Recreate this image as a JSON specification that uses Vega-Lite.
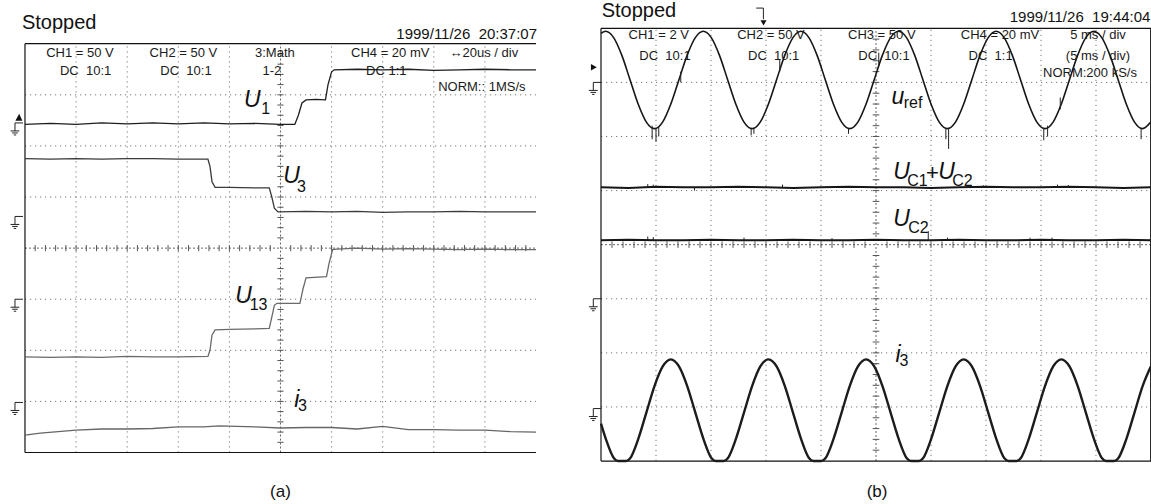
{
"$schema": "https://vega.github.io/schema/vega-lite/v6.json",
"padding": 0,
"autosize": {"type": "pad"},
"background": "white",
"bounds": "flush",
"spacing": 0,
"config": {"view": {"stroke": null}},
"datasets": {
"grid": [
{"x":1,"y":-4,"x2":1,"y2":4},{"x":2,"y":-4,"x2":2,"y2":4},{"x":3,"y":-4,"x2":3,"y2":4},{"x":4,"y":-4,"x2":4,"y2":4},
{"x":6,"y":-4,"x2":6,"y2":4},{"x":7,"y":-4,"x2":7,"y2":4},{"x":8,"y":-4,"x2":8,"y2":4},{"x":9,"y":-4,"x2":9,"y2":4},
{"x":0,"y":-3,"x2":10,"y2":-3},{"x":0,"y":-2,"x2":10,"y2":-2},{"x":0,"y":-1,"x2":10,"y2":-1},
{"x":0,"y":1,"x2":10,"y2":1},{"x":0,"y":2,"x2":10,"y2":2},{"x":0,"y":3,"x2":10,"y2":3}
],
"center": [{"x":5,"y":-4,"x2":5,"y2":4},{"x":0,"y":0,"x2":10,"y2":0}],
"ticksX": [{"t":0.2},{"t":0.4},{"t":0.6},{"t":0.8},{"t":1},{"t":1.2},{"t":1.4},{"t":1.6},{"t":1.8},{"t":2},{"t":2.2},{"t":2.4},{"t":2.6},{"t":2.8},{"t":3},{"t":3.2},{"t":3.4},{"t":3.6},{"t":3.8},{"t":4},{"t":4.2},{"t":4.4},{"t":4.6},{"t":4.8},{"t":5.2},{"t":5.4},{"t":5.6},{"t":5.8},{"t":6},{"t":6.2},{"t":6.4},{"t":6.6},{"t":6.8},{"t":7},{"t":7.2},{"t":7.4},{"t":7.6},{"t":7.8},{"t":8},{"t":8.2},{"t":8.4},{"t":8.6},{"t":8.8},{"t":9},{"t":9.2},{"t":9.4},{"t":9.6},{"t":9.8}],
"ticksY": [{"t":-3.8},{"t":-3.6},{"t":-3.4},{"t":-3.2},{"t":-3},{"t":-2.8},{"t":-2.6},{"t":-2.4},{"t":-2.2},{"t":-2},{"t":-1.8},{"t":-1.6},{"t":-1.4},{"t":-1.2},{"t":-1},{"t":-0.8},{"t":-0.6},{"t":-0.4},{"t":-0.2},{"t":0.2},{"t":0.4},{"t":0.6},{"t":0.8},{"t":1},{"t":1.2},{"t":1.4},{"t":1.6},{"t":1.8},{"t":2},{"t":2.2},{"t":2.4},{"t":2.6},{"t":2.8},{"t":3},{"t":3.2},{"t":3.4},{"t":3.6},{"t":3.8}],
"boxA": [{"x":0,"y":4,"x2":10,"y2":4},{"x":0,"y":-4,"x2":10,"y2":-4},{"x":0,"y":-4,"x2":0,"y2":4}],
"boxB": [{"x":0,"y":4,"x2":10,"y2":4},{"x":0,"y":-4,"x2":10,"y2":-4},{"x":0,"y":-4,"x2":0,"y2":4},{"x":9.995,"y":-4,"x2":9.995,"y2":4}],
"gndA": [{"y":2.45},{"y":0.62},{"y":-1.0},{"y":-3.02}],
"gndB": [{"y":3.0},{"y":-1.0},{"y":-3.03}],
"traceA": [
{"s":"U1","x":0,"y":2.42},{"s":"U1","x":0.5,"y":2.44},{"s":"U1","x":1,"y":2.42},{"s":"U1","x":1.5,"y":2.45},{"s":"U1","x":2,"y":2.43},{"s":"U1","x":2.5,"y":2.45},{"s":"U1","x":3,"y":2.43},{"s":"U1","x":3.5,"y":2.45},{"s":"U1","x":4,"y":2.43},{"s":"U1","x":4.5,"y":2.44},{"s":"U1","x":5,"y":2.42},{"s":"U1","x":5.28,"y":2.42},{"s":"U1","x":5.35,"y":2.6},{"s":"U1","x":5.42,"y":2.84},{"s":"U1","x":5.5,"y":2.9},{"s":"U1","x":5.7,"y":2.91},{"s":"U1","x":5.88,"y":2.9},{"s":"U1","x":5.93,"y":3.2},{"s":"U1","x":6.0,"y":3.45},{"s":"U1","x":6.05,"y":3.49},{"s":"U1","x":6.5,"y":3.5},{"s":"U1","x":7,"y":3.49},{"s":"U1","x":7.5,"y":3.5},{"s":"U1","x":8,"y":3.48},{"s":"U1","x":8.5,"y":3.49},{"s":"U1","x":9,"y":3.5},{"s":"U1","x":9.5,"y":3.49},{"s":"U1","x":10,"y":3.49},
{"s":"U3","x":0,"y":1.75},{"s":"U3","x":0.5,"y":1.74},{"s":"U3","x":1,"y":1.75},{"s":"U3","x":1.5,"y":1.74},{"s":"U3","x":2,"y":1.75},{"s":"U3","x":2.5,"y":1.75},{"s":"U3","x":3,"y":1.74},{"s":"U3","x":3.58,"y":1.74},{"s":"U3","x":3.62,"y":1.6},{"s":"U3","x":3.66,"y":1.3},{"s":"U3","x":3.72,"y":1.19},{"s":"U3","x":4,"y":1.19},{"s":"U3","x":4.5,"y":1.18},{"s":"U3","x":4.78,"y":1.18},{"s":"U3","x":4.83,"y":1.0},{"s":"U3","x":4.88,"y":0.78},{"s":"U3","x":4.95,"y":0.71},{"s":"U3","x":5.5,"y":0.72},{"s":"U3","x":6,"y":0.71},{"s":"U3","x":6.5,"y":0.72},{"s":"U3","x":7,"y":0.7},{"s":"U3","x":7.5,"y":0.71},{"s":"U3","x":8,"y":0.71},{"s":"U3","x":8.5,"y":0.72},{"s":"U3","x":9,"y":0.71},{"s":"U3","x":9.5,"y":0.71},{"s":"U3","x":10,"y":0.71},
{"s":"U13","x":0,"y":-2.13},{"s":"U13","x":0.5,"y":-2.14},{"s":"U13","x":1,"y":-2.13},{"s":"U13","x":1.5,"y":-2.14},{"s":"U13","x":2,"y":-2.12},{"s":"U13","x":2.5,"y":-2.13},{"s":"U13","x":3,"y":-2.13},{"s":"U13","x":3.58,"y":-2.12},{"s":"U13","x":3.62,"y":-2.0},{"s":"U13","x":3.66,"y":-1.7},{"s":"U13","x":3.72,"y":-1.6},{"s":"U13","x":4,"y":-1.59},{"s":"U13","x":4.5,"y":-1.58},{"s":"U13","x":4.78,"y":-1.57},{"s":"U13","x":4.83,"y":-1.35},{"s":"U13","x":4.88,"y":-1.12},{"s":"U13","x":4.93,"y":-1.08},{"s":"U13","x":5.38,"y":-1.08},{"s":"U13","x":5.44,"y":-0.8},{"s":"U13","x":5.5,"y":-0.58},{"s":"U13","x":5.9,"y":-0.56},{"s":"U13","x":5.95,"y":-0.3},{"s":"U13","x":6.02,"y":-0.03},{"s":"U13","x":6.1,"y":-0.02},{"s":"U13","x":6.5,"y":0.0},{"s":"U13","x":7,"y":-0.02},{"s":"U13","x":7.5,"y":-0.01},{"s":"U13","x":8,"y":-0.02},{"s":"U13","x":8.5,"y":-0.03},{"s":"U13","x":9,"y":-0.02},{"s":"U13","x":9.5,"y":-0.03},{"s":"U13","x":10,"y":-0.03},
{"s":"i3","x":0,"y":-3.66},{"s":"i3","x":0.3,"y":-3.62},{"s":"i3","x":1.0,"y":-3.56},{"s":"i3","x":1.5,"y":-3.54},{"s":"i3","x":2,"y":-3.54},{"s":"i3","x":2.5,"y":-3.53},{"s":"i3","x":3,"y":-3.5},{"s":"i3","x":3.5,"y":-3.5},{"s":"i3","x":3.8,"y":-3.48},{"s":"i3","x":4.5,"y":-3.5},{"s":"i3","x":5,"y":-3.52},{"s":"i3","x":5.5,"y":-3.51},{"s":"i3","x":6,"y":-3.51},{"s":"i3","x":6.5,"y":-3.54},{"s":"i3","x":7,"y":-3.49},{"s":"i3","x":7.5,"y":-3.55},{"s":"i3","x":8,"y":-3.55},{"s":"i3","x":8.5,"y":-3.56},{"s":"i3","x":9,"y":-3.56},{"s":"i3","x":9.5,"y":-3.59},{"s":"i3","x":10,"y":-3.6}
],
"sineB": [
{"s":"uref","x":0,"y":3.905},{"s":"uref","x":0.085,"y":3.945},{"s":"uref","x":0.233,"y":3.824},{"s":"uref","x":0.381,"y":3.495},{"s":"uref","x":0.529,"y":3.045},{"s":"uref","x":0.677,"y":2.595},{"s":"uref","x":0.825,"y":2.266},{"s":"uref","x":0.973,"y":2.145},{"s":"uref","x":1.12,"y":2.266},{"s":"uref","x":1.268,"y":2.595},{"s":"uref","x":1.416,"y":3.045},{"s":"uref","x":1.564,"y":3.495},{"s":"uref","x":1.712,"y":3.824},{"s":"uref","x":1.86,"y":3.945},{"s":"uref","x":2.008,"y":3.824},{"s":"uref","x":2.156,"y":3.495},{"s":"uref","x":2.304,"y":3.045},{"s":"uref","x":2.452,"y":2.595},{"s":"uref","x":2.6,"y":2.266},{"s":"uref","x":2.748,"y":2.145},{"s":"uref","x":2.895,"y":2.266},{"s":"uref","x":3.043,"y":2.595},{"s":"uref","x":3.191,"y":3.045},{"s":"uref","x":3.339,"y":3.495},{"s":"uref","x":3.487,"y":3.824},{"s":"uref","x":3.635,"y":3.945},{"s":"uref","x":3.783,"y":3.824},{"s":"uref","x":3.931,"y":3.495},{"s":"uref","x":4.079,"y":3.045},{"s":"uref","x":4.227,"y":2.595},{"s":"uref","x":4.375,"y":2.266},{"s":"uref","x":4.523,"y":2.145},{"s":"uref","x":4.67,"y":2.266},{"s":"uref","x":4.818,"y":2.595},{"s":"uref","x":4.966,"y":3.045},{"s":"uref","x":5.114,"y":3.495},{"s":"uref","x":5.262,"y":3.824},{"s":"uref","x":5.41,"y":3.945},{"s":"uref","x":5.558,"y":3.824},{"s":"uref","x":5.706,"y":3.495},{"s":"uref","x":5.854,"y":3.045},{"s":"uref","x":6.002,"y":2.595},{"s":"uref","x":6.15,"y":2.266},{"s":"uref","x":6.298,"y":2.145},{"s":"uref","x":6.445,"y":2.266},{"s":"uref","x":6.593,"y":2.595},{"s":"uref","x":6.741,"y":3.045},{"s":"uref","x":6.889,"y":3.495},{"s":"uref","x":7.037,"y":3.824},{"s":"uref","x":7.185,"y":3.945},{"s":"uref","x":7.333,"y":3.824},{"s":"uref","x":7.481,"y":3.495},{"s":"uref","x":7.629,"y":3.045},{"s":"uref","x":7.777,"y":2.595},{"s":"uref","x":7.925,"y":2.266},{"s":"uref","x":8.073,"y":2.145},{"s":"uref","x":8.22,"y":2.266},{"s":"uref","x":8.368,"y":2.595},{"s":"uref","x":8.516,"y":3.045},{"s":"uref","x":8.664,"y":3.495},{"s":"uref","x":8.812,"y":3.824},{"s":"uref","x":8.96,"y":3.945},{"s":"uref","x":9.108,"y":3.824},{"s":"uref","x":9.256,"y":3.495},{"s":"uref","x":9.404,"y":3.045},{"s":"uref","x":9.552,"y":2.595},{"s":"uref","x":9.7,"y":2.266},{"s":"uref","x":9.848,"y":2.145},{"s":"uref","x":9.995,"y":2.266},
{"s":"i3","x":0,"y":-3.31},{"s":"i3","x":0.087,"y":-3.59},{"s":"i3","x":0.235,"y":-3.949},{"s":"i3","x":0.309,"y":-4.0},{"s":"i3","x":0.383,"y":-4.0},{"s":"i3","x":0.457,"y":-4.0},{"s":"i3","x":0.53,"y":-3.949},{"s":"i3","x":0.678,"y":-3.59},{"s":"i3","x":0.826,"y":-3.1},{"s":"i3","x":0.974,"y":-2.61},{"s":"i3","x":1.122,"y":-2.251},{"s":"i3","x":1.27,"y":-2.12},{"s":"i3","x":1.418,"y":-2.251},{"s":"i3","x":1.566,"y":-2.61},{"s":"i3","x":1.714,"y":-3.1},{"s":"i3","x":1.862,"y":-3.59},{"s":"i3","x":2.01,"y":-3.949},{"s":"i3","x":2.084,"y":-4.0},{"s":"i3","x":2.158,"y":-4.0},{"s":"i3","x":2.232,"y":-4.0},{"s":"i3","x":2.305,"y":-3.949},{"s":"i3","x":2.453,"y":-3.59},{"s":"i3","x":2.601,"y":-3.1},{"s":"i3","x":2.749,"y":-2.61},{"s":"i3","x":2.897,"y":-2.251},{"s":"i3","x":3.045,"y":-2.12},{"s":"i3","x":3.193,"y":-2.251},{"s":"i3","x":3.341,"y":-2.61},{"s":"i3","x":3.489,"y":-3.1},{"s":"i3","x":3.637,"y":-3.59},{"s":"i3","x":3.785,"y":-3.949},{"s":"i3","x":3.859,"y":-4.0},{"s":"i3","x":3.933,"y":-4.0},{"s":"i3","x":4.007,"y":-4.0},{"s":"i3","x":4.08,"y":-3.949},{"s":"i3","x":4.228,"y":-3.59},{"s":"i3","x":4.376,"y":-3.1},{"s":"i3","x":4.524,"y":-2.61},{"s":"i3","x":4.672,"y":-2.251},{"s":"i3","x":4.82,"y":-2.12},{"s":"i3","x":4.968,"y":-2.251},{"s":"i3","x":5.116,"y":-2.61},{"s":"i3","x":5.264,"y":-3.1},{"s":"i3","x":5.412,"y":-3.59},{"s":"i3","x":5.56,"y":-3.949},{"s":"i3","x":5.634,"y":-4.0},{"s":"i3","x":5.708,"y":-4.0},{"s":"i3","x":5.782,"y":-4.0},{"s":"i3","x":5.855,"y":-3.949},{"s":"i3","x":6.003,"y":-3.59},{"s":"i3","x":6.151,"y":-3.1},{"s":"i3","x":6.299,"y":-2.61},{"s":"i3","x":6.447,"y":-2.251},{"s":"i3","x":6.595,"y":-2.12},{"s":"i3","x":6.743,"y":-2.251},{"s":"i3","x":6.891,"y":-2.61},{"s":"i3","x":7.039,"y":-3.1},{"s":"i3","x":7.187,"y":-3.59},{"s":"i3","x":7.335,"y":-3.949},{"s":"i3","x":7.409,"y":-4.0},{"s":"i3","x":7.483,"y":-4.0},{"s":"i3","x":7.557,"y":-4.0},{"s":"i3","x":7.63,"y":-3.949},{"s":"i3","x":7.778,"y":-3.59},{"s":"i3","x":7.926,"y":-3.1},{"s":"i3","x":8.074,"y":-2.61},{"s":"i3","x":8.222,"y":-2.251},{"s":"i3","x":8.37,"y":-2.12},{"s":"i3","x":8.518,"y":-2.251},{"s":"i3","x":8.666,"y":-2.61},{"s":"i3","x":8.814,"y":-3.1},{"s":"i3","x":8.962,"y":-3.59},{"s":"i3","x":9.11,"y":-3.949},{"s":"i3","x":9.184,"y":-4.0},{"s":"i3","x":9.258,"y":-4.0},{"s":"i3","x":9.332,"y":-4.0},{"s":"i3","x":9.405,"y":-3.949},{"s":"i3","x":9.553,"y":-3.59},{"s":"i3","x":9.701,"y":-3.1},{"s":"i3","x":9.849,"y":-2.61},{"s":"i3","x":9.997,"y":-2.251}
],
"flatB": [
{"s":"uc12","x":0,"y":1.06},{"s":"uc12","x":0.5,"y":1.05},{"s":"uc12","x":1,"y":1.07},{"s":"uc12","x":1.5,"y":1.06},{"s":"uc12","x":2,"y":1.06},{"s":"uc12","x":2.5,"y":1.07},{"s":"uc12","x":3,"y":1.06},{"s":"uc12","x":3.5,"y":1.05},{"s":"uc12","x":4,"y":1.06},{"s":"uc12","x":4.5,"y":1.07},{"s":"uc12","x":5,"y":1.06},{"s":"uc12","x":5.5,"y":1.06},{"s":"uc12","x":6,"y":1.05},{"s":"uc12","x":6.5,"y":1.06},{"s":"uc12","x":7,"y":1.07},{"s":"uc12","x":7.5,"y":1.06},{"s":"uc12","x":8,"y":1.06},{"s":"uc12","x":8.5,"y":1.07},{"s":"uc12","x":9,"y":1.06},{"s":"uc12","x":9.5,"y":1.05},{"s":"uc12","x":10,"y":1.06},
{"s":"uc2","x":0,"y":0.08},{"s":"uc2","x":0.5,"y":0.09},{"s":"uc2","x":1,"y":0.08},{"s":"uc2","x":1.5,"y":0.08},{"s":"uc2","x":2,"y":0.09},{"s":"uc2","x":2.5,"y":0.08},{"s":"uc2","x":3,"y":0.08},{"s":"uc2","x":3.5,"y":0.09},{"s":"uc2","x":4,"y":0.08},{"s":"uc2","x":4.5,"y":0.08},{"s":"uc2","x":5,"y":0.09},{"s":"uc2","x":5.5,"y":0.08},{"s":"uc2","x":6,"y":0.08},{"s":"uc2","x":6.5,"y":0.09},{"s":"uc2","x":7,"y":0.08},{"s":"uc2","x":7.5,"y":0.08},{"s":"uc2","x":8,"y":0.09},{"s":"uc2","x":8.5,"y":0.08},{"s":"uc2","x":9,"y":0.08},{"s":"uc2","x":9.5,"y":0.09},{"s":"uc2","x":10,"y":0.08}
],
"spikesB": [
{"x":0.93,"y":2.2,"y2":1.95},{"x":1.0,"y":2.15,"y2":1.9},{"x":1.05,"y":2.18,"y2":2.0},{"x":2.73,"y":2.15,"y2":2.02},{"x":2.78,"y":2.16,"y2":2.05},{"x":4.5,"y":2.15,"y2":2.05},{"x":6.27,"y":2.16,"y2":1.95},{"x":6.32,"y":2.16,"y2":1.77},{"x":8.05,"y":2.16,"y2":1.93},{"x":8.12,"y":2.2,"y2":2.0},{"x":8.35,"y":2.5,"y2":2.72},{"x":9.82,"y":2.15,"y2":1.95},{"x":1.45,"y":3.0,"y2":3.2},{"x":3.25,"y":3.2,"y2":3.42},{"x":5.05,"y":3.3,"y2":3.55},
{"x":0.85,"y":1.06,"y2":1.12},{"x":0.95,"y":1.06,"y2":1.11},{"x":1.7,"y":1.06,"y2":1.0},{"x":3.3,"y":1.06,"y2":1.11},{"x":6.95,"y":1.06,"y2":1.1},{"x":8.3,"y":1.06,"y2":1.11},{"x":8.5,"y":1.06,"y2":1.1},
{"x":0.85,"y":0.08,"y2":0.15},{"x":0.95,"y":0.08,"y2":0.14},{"x":2.6,"y":0.08,"y2":0.13},{"x":4.2,"y":0.08,"y2":0.12},{"x":5.95,"y":0.07,"y2":0.25},{"x":6.3,"y":0.08,"y2":0.13},{"x":7.8,"y":0.08,"y2":0.13},{"x":8.2,"y":0.08,"y2":0.13}
],
"textA": [
{"role":"status","t":"Stopped","x":-0.06,"y":4.28},
{"role":"time","t":"1999/11/26\u00a0\u00a020:37:07","x":10.02,"y":4.094},
{"role":"info","t":"CH1 = 50 V","x":1.076,"y":3.826},
{"role":"info","t":"DC\u00a0\u00a010:1","x":1.186,"y":3.468},
{"role":"info","t":"CH2 = 50 V","x":3.10,"y":3.826},
{"role":"info","t":"DC\u00a0\u00a010:1","x":3.15,"y":3.468},
{"role":"info","t":"3:Math","x":4.89,"y":3.826},
{"role":"info","t":"1-2","x":4.83,"y":3.468},
{"role":"info","t":"CH4 = 20 mV","x":7.147,"y":3.826},
{"role":"info","t":"DC 1:1","x":7.07,"y":3.468},
{"role":"info","t":"\u219420us / div","x":8.98,"y":3.826},
{"role":"info","t":"NORM:: 1MS/s","x":8.94,"y":3.155},
{"role":"name","t":"U","x":4.45,"y":2.9},
{"role":"sub","t":"1","x":4.71,"y":2.73},
{"role":"name","t":"U","x":5.215,"y":1.413},
{"role":"sub","t":"3","x":5.41,"y":1.198},
{"role":"name","t":"U","x":4.276,"y":-0.945},
{"role":"sub","t":"13","x":4.57,"y":-1.11},
{"role":"name","t":"i","x":5.32,"y":-2.98},
{"role":"sub","t":"3","x":5.43,"y":-3.09},
{"role":"caption","t":"(a)","x":5.0,"y":-4.77}
],
"textB": [
{"role":"status","t":"Stopped","x":0.013,"y":4.217},
{"role":"time","t":"1999/11/26\u00a0\u00a019:44:04","x":9.99,"y":4.115},
{"role":"info","t":"CH1 = 2 V","x":1.05,"y":3.87},
{"role":"info","t":"DC\u00a0\u00a010:1","x":1.164,"y":3.49},
{"role":"info","t":"CH2 = 50 V","x":3.09,"y":3.87},
{"role":"info","t":"DC\u00a0\u00a010:1","x":3.14,"y":3.49},
{"role":"info","t":"CH3 = 50 V","x":5.105,"y":3.87},
{"role":"info","t":"DC\u00a0\u00a010:1","x":5.145,"y":3.49},
{"role":"info","t":"CH4 = 20 mV","x":7.255,"y":3.87},
{"role":"info","t":"DC\u00a0\u00a01:1","x":7.084,"y":3.49},
{"role":"info","t":"5 ms / div","x":9.036,"y":3.87},
{"role":"info","t":"(5 ms / div)","x":9.036,"y":3.49},
{"role":"info","t":"NORM:200 kS/s","x":8.89,"y":3.17},
{"role":"name","t":"u","x":5.4,"y":2.73},
{"role":"sub","t":"ref","x":5.673,"y":2.62},
{"role":"name","t":"U","x":5.467,"y":1.346},
{"role":"sub","t":"C1","x":5.755,"y":1.176},
{"role":"plus","t":"+","x":6.027,"y":1.329},
{"role":"name","t":"U","x":6.282,"y":1.346},
{"role":"sub","t":"C2","x":6.573,"y":1.176},
{"role":"name","t":"U","x":5.467,"y":0.4825},
{"role":"sub","t":"C2","x":5.77,"y":0.312},
{"role":"name","t":"i","x":5.4,"y":-2.04},
{"role":"sub","t":"3","x":5.51,"y":-2.15},
{"role":"caption","t":"(b)","x":5.02,"y":-4.57}
]
},
"hconcat": [
{
"width": 568, "height": 504,
"layer": [
{"data":{"name":"grid"},"mark":{"type":"rule","color":"#777","strokeWidth":1,"strokeDash":[1.2,3.8]},
 "encoding":{"x":{"field":"x","type":"quantitative","scale":{"domain":[-0.489,10.626],"nice":false,"zero":false},"axis":null},"y":{"field":"y","type":"quantitative","scale":{"domain":[-5.027,4.836],"nice":false,"zero":false},"axis":null},"x2":{"field":"x2"},"y2":{"field":"y2"}}},
{"data":{"name":"center"},"mark":{"type":"rule","color":"#666","strokeWidth":1,"strokeDash":[2,2]},
 "encoding":{"x":{"field":"x","type":"quantitative","scale":{"domain":[-0.489,10.626],"nice":false,"zero":false},"axis":null},"y":{"field":"y","type":"quantitative","scale":{"domain":[-5.027,4.836],"nice":false,"zero":false},"axis":null},"x2":{"field":"x2"},"y2":{"field":"y2"}}},
{"data":{"name":"ticksX"},"mark":{"type":"rule","color":"#555","strokeWidth":1},
 "encoding":{"x":{"field":"t","type":"quantitative","scale":{"domain":[-0.489,10.626],"nice":false,"zero":false},"axis":null},"y":{"datum":-0.06,"scale":{"domain":[-5.027,4.836],"nice":false,"zero":false},"axis":null},"y2":{"datum":0.06}}},
{"data":{"name":"ticksY"},"mark":{"type":"rule","color":"#555","strokeWidth":1},
 "encoding":{"y":{"field":"t","type":"quantitative","scale":{"domain":[-5.027,4.836],"nice":false,"zero":false},"axis":null},"x":{"datum":4.94,"scale":{"domain":[-0.489,10.626],"nice":false,"zero":false},"axis":null},"x2":{"datum":5.06}}},
{"data":{"name":"boxA"},"mark":{"type":"rule","color":"#111","strokeWidth":1.2},
 "encoding":{"x":{"field":"x","type":"quantitative","scale":{"domain":[-0.489,10.626],"nice":false,"zero":false},"axis":null},"y":{"field":"y","type":"quantitative","scale":{"domain":[-5.027,4.836],"nice":false,"zero":false},"axis":null},"x2":{"field":"x2"},"y2":{"field":"y2"}}},
{"data":{"name":"gndA"},"mark":{"type":"point","shape":"M0,0 L1,0 M0,0 L0,1 M-0.55,1 L0.55,1 M-0.35,1.25 L0.35,1.25 M-0.15,1.5 L0.15,1.5","size":256,"filled":false,"stroke":"#222","strokeWidth":1,"opacity":1},
 "encoding":{"x":{"datum":-0.196,"scale":{"domain":[-0.489,10.626],"nice":false,"zero":false},"axis":null},"y":{"field":"y","type":"quantitative","scale":{"domain":[-5.027,4.836],"nice":false,"zero":false},"axis":null}}},
{"data":{"values":[{}]},"mark":{"type":"point","shape":"M-1,1 L1,1 L0.1,-1 Z","size":49,"filled":true,"color":"#111","opacity":1},
 "encoding":{"x":{"datum":-0.12,"scale":{"domain":[-0.489,10.626],"nice":false,"zero":false},"axis":null},"y":{"datum":2.56,"scale":{"domain":[-5.027,4.836],"nice":false,"zero":false},"axis":null}}},
{"data":{"name":"traceA"},"mark":{"type":"line","strokeWidth":1.3,"interpolate":"linear"},
 "encoding":{"x":{"field":"x","type":"quantitative","scale":{"domain":[-0.489,10.626],"nice":false,"zero":false},"axis":null},"y":{"field":"y","type":"quantitative","scale":{"domain":[-5.027,4.836],"nice":false,"zero":false},"axis":null},
 "color":{"field":"s","type":"nominal","scale":{"domain":["U1","U3","U13","i3"],"range":["#1e1e1e","#3a3a3a","#6a6a6a","#666666"]},"legend":null}}},
{"data":{"name":"textA"},"transform":[{"filter":"datum.role === 'status'"}],"mark":{"type":"text","font":"Liberation Sans","fontSize":20,"align":"left","baseline":"alphabetic","color":"#111"},
 "encoding":{"x":{"field":"x","type":"quantitative","scale":{"domain":[-0.489,10.626],"nice":false,"zero":false},"axis":null},"y":{"field":"y","type":"quantitative","scale":{"domain":[-5.027,4.836],"nice":false,"zero":false},"axis":null},"text":{"field":"t"}}},
{"data":{"name":"textA"},"transform":[{"filter":"datum.role === 'time'"}],"mark":{"type":"text","font":"Liberation Sans","fontSize":15,"align":"right","baseline":"alphabetic","color":"#111"},
 "encoding":{"x":{"field":"x","type":"quantitative","scale":{"domain":[-0.489,10.626],"nice":false,"zero":false},"axis":null},"y":{"field":"y","type":"quantitative","scale":{"domain":[-5.027,4.836],"nice":false,"zero":false},"axis":null},"text":{"field":"t"}}},
{"data":{"name":"textA"},"transform":[{"filter":"datum.role === 'info'"}],"mark":{"type":"text","font":"Liberation Sans","fontSize":13,"align":"center","baseline":"middle","color":"#1a1a1a"},
 "encoding":{"x":{"field":"x","type":"quantitative","scale":{"domain":[-0.489,10.626],"nice":false,"zero":false},"axis":null},"y":{"field":"y","type":"quantitative","scale":{"domain":[-5.027,4.836],"nice":false,"zero":false},"axis":null},"text":{"field":"t"}}},
{"data":{"name":"textA"},"transform":[{"filter":"datum.role === 'name'"}],"mark":{"type":"text","font":"Liberation Sans","fontSize":23,"fontStyle":"italic","align":"center","baseline":"middle","color":"#111"},
 "encoding":{"x":{"field":"x","type":"quantitative","scale":{"domain":[-0.489,10.626],"nice":false,"zero":false},"axis":null},"y":{"field":"y","type":"quantitative","scale":{"domain":[-5.027,4.836],"nice":false,"zero":false},"axis":null},"text":{"field":"t"}}},
{"data":{"name":"textA"},"transform":[{"filter":"datum.role === 'sub'"}],"mark":{"type":"text","font":"Liberation Sans","fontSize":16,"align":"center","baseline":"middle","color":"#111"},
 "encoding":{"x":{"field":"x","type":"quantitative","scale":{"domain":[-0.489,10.626],"nice":false,"zero":false},"axis":null},"y":{"field":"y","type":"quantitative","scale":{"domain":[-5.027,4.836],"nice":false,"zero":false},"axis":null},"text":{"field":"t"}}},
{"data":{"name":"textA"},"transform":[{"filter":"datum.role === 'caption'"}],"mark":{"type":"text","font":"Liberation Sans","fontSize":17,"align":"center","baseline":"middle","color":"#111"},
 "encoding":{"x":{"field":"x","type":"quantitative","scale":{"domain":[-0.489,10.626],"nice":false,"zero":false},"axis":null},"y":{"field":"y","type":"quantitative","scale":{"domain":[-5.027,4.836],"nice":false,"zero":false},"axis":null},"text":{"field":"t"}}}
]
},
{
"width": 583, "height": 504,
"layer": [
{"data":{"name":"grid"},"mark":{"type":"rule","color":"#777","strokeWidth":1,"strokeDash":[1.2,3.8]},
 "encoding":{"x":{"field":"x","type":"quantitative","scale":{"domain":[-0.6,10.0],"nice":false,"zero":false},"axis":null},"y":{"field":"y","type":"quantitative","scale":{"domain":[-4.813,4.505],"nice":false,"zero":false},"axis":null},"x2":{"field":"x2"},"y2":{"field":"y2"}}},
{"data":{"name":"center"},"mark":{"type":"rule","color":"#666","strokeWidth":1,"strokeDash":[2,2]},
 "encoding":{"x":{"field":"x","type":"quantitative","scale":{"domain":[-0.6,10.0],"nice":false,"zero":false},"axis":null},"y":{"field":"y","type":"quantitative","scale":{"domain":[-4.813,4.505],"nice":false,"zero":false},"axis":null},"x2":{"field":"x2"},"y2":{"field":"y2"}}},
{"data":{"name":"ticksX"},"mark":{"type":"rule","color":"#555","strokeWidth":1},
 "encoding":{"x":{"field":"t","type":"quantitative","scale":{"domain":[-0.6,10.0],"nice":false,"zero":false},"axis":null},"y":{"datum":-0.06,"scale":{"domain":[-4.813,4.505],"nice":false,"zero":false},"axis":null},"y2":{"datum":0.06}}},
{"data":{"name":"ticksY"},"mark":{"type":"rule","color":"#555","strokeWidth":1},
 "encoding":{"y":{"field":"t","type":"quantitative","scale":{"domain":[-4.813,4.505],"nice":false,"zero":false},"axis":null},"x":{"datum":4.94,"scale":{"domain":[-0.6,10.0],"nice":false,"zero":false},"axis":null},"x2":{"datum":5.06}}},
{"data":{"name":"boxB"},"mark":{"type":"rule","color":"#111","strokeWidth":1.2},
 "encoding":{"x":{"field":"x","type":"quantitative","scale":{"domain":[-0.6,10.0],"nice":false,"zero":false},"axis":null},"y":{"field":"y","type":"quantitative","scale":{"domain":[-4.813,4.505],"nice":false,"zero":false},"axis":null},"x2":{"field":"x2"},"y2":{"field":"y2"}}},
{"data":{"name":"gndB"},"mark":{"type":"point","shape":"M0,0 L1,0 M0,0 L0,1 M-0.55,1 L0.55,1 M-0.35,1.25 L0.35,1.25 M-0.15,1.5 L0.15,1.5","size":256,"filled":false,"stroke":"#222","strokeWidth":1,"opacity":1},
 "encoding":{"x":{"datum":-0.14,"scale":{"domain":[-0.6,10.0],"nice":false,"zero":false},"axis":null},"y":{"field":"y","type":"quantitative","scale":{"domain":[-4.813,4.505],"nice":false,"zero":false},"axis":null}}},
{"data":{"values":[{}]},"mark":{"type":"point","shape":"triangle-right","size":45,"filled":true,"color":"#111","opacity":1},
 "encoding":{"x":{"datum":-0.13,"scale":{"domain":[-0.6,10.0],"nice":false,"zero":false},"axis":null},"y":{"datum":3.28,"scale":{"domain":[-4.813,4.505],"nice":false,"zero":false},"axis":null}}},
{"data":{"values":[{}]},"mark":{"type":"point","shape":"M-0.6,-1 L0.3,-1 L0.3,0.4","size":256,"filled":false,"stroke":"#222","strokeWidth":1,"opacity":1},
 "encoding":{"x":{"datum":2.909,"scale":{"domain":[-0.6,10.0],"nice":false,"zero":false},"axis":null},"y":{"datum":4.226,"scale":{"domain":[-4.813,4.505],"nice":false,"zero":false},"axis":null}}},
{"data":{"values":[{}]},"mark":{"type":"point","shape":"triangle-down","size":36,"filled":true,"color":"#111","opacity":1},
 "encoding":{"x":{"datum":2.955,"scale":{"domain":[-0.6,10.0],"nice":false,"zero":false},"axis":null},"y":{"datum":4.1,"scale":{"domain":[-4.813,4.505],"nice":false,"zero":false},"axis":null}}},
{"data":{"name":"sineB"},"transform":[{"filter":"datum.s === 'uref'"}],"mark":{"type":"line","strokeWidth":1.6,"interpolate":"monotone","color":"#161616"},
 "encoding":{"x":{"field":"x","type":"quantitative","scale":{"domain":[-0.6,10.0],"nice":false,"zero":false},"axis":null},"y":{"field":"y","type":"quantitative","scale":{"domain":[-4.813,4.505],"nice":false,"zero":false},"axis":null}}},
{"data":{"name":"sineB"},"transform":[{"filter":"datum.s === 'i3'"}],"mark":{"type":"line","strokeWidth":2.4,"interpolate":"monotone","color":"#1c1c1c"},
 "encoding":{"x":{"field":"x","type":"quantitative","scale":{"domain":[-0.6,10.0],"nice":false,"zero":false},"axis":null},"y":{"field":"y","type":"quantitative","scale":{"domain":[-4.813,4.505],"nice":false,"zero":false},"axis":null}}},
{"data":{"name":"flatB"},"mark":{"type":"line","strokeWidth":2,"interpolate":"linear","color":"#161616"},
 "encoding":{"x":{"field":"x","type":"quantitative","scale":{"domain":[-0.6,10.0],"nice":false,"zero":false},"axis":null},"y":{"field":"y","type":"quantitative","scale":{"domain":[-4.813,4.505],"nice":false,"zero":false},"axis":null},"detail":{"field":"s"}}},
{"data":{"name":"spikesB"},"mark":{"type":"rule","strokeWidth":1,"color":"#222"},
 "encoding":{"x":{"field":"x","type":"quantitative","scale":{"domain":[-0.6,10.0],"nice":false,"zero":false},"axis":null},"y":{"field":"y","type":"quantitative","scale":{"domain":[-4.813,4.505],"nice":false,"zero":false},"axis":null},"y2":{"field":"y2"}}},
{"data":{"name":"textB"},"transform":[{"filter":"datum.role === 'status'"}],"mark":{"type":"text","font":"Liberation Sans","fontSize":20,"align":"left","baseline":"alphabetic","color":"#111"},
 "encoding":{"x":{"field":"x","type":"quantitative","scale":{"domain":[-0.6,10.0],"nice":false,"zero":false},"axis":null},"y":{"field":"y","type":"quantitative","scale":{"domain":[-4.813,4.505],"nice":false,"zero":false},"axis":null},"text":{"field":"t"}}},
{"data":{"name":"textB"},"transform":[{"filter":"datum.role === 'time'"}],"mark":{"type":"text","font":"Liberation Sans","fontSize":15,"align":"right","baseline":"alphabetic","color":"#111"},
 "encoding":{"x":{"field":"x","type":"quantitative","scale":{"domain":[-0.6,10.0],"nice":false,"zero":false},"axis":null},"y":{"field":"y","type":"quantitative","scale":{"domain":[-4.813,4.505],"nice":false,"zero":false},"axis":null},"text":{"field":"t"}}},
{"data":{"name":"textB"},"transform":[{"filter":"datum.role === 'info'"}],"mark":{"type":"text","font":"Liberation Sans","fontSize":13,"align":"center","baseline":"middle","color":"#1a1a1a"},
 "encoding":{"x":{"field":"x","type":"quantitative","scale":{"domain":[-0.6,10.0],"nice":false,"zero":false},"axis":null},"y":{"field":"y","type":"quantitative","scale":{"domain":[-4.813,4.505],"nice":false,"zero":false},"axis":null},"text":{"field":"t"}}},
{"data":{"name":"textB"},"transform":[{"filter":"datum.role === 'name'"}],"mark":{"type":"text","font":"Liberation Sans","fontSize":23,"fontStyle":"italic","align":"center","baseline":"middle","color":"#111"},
 "encoding":{"x":{"field":"x","type":"quantitative","scale":{"domain":[-0.6,10.0],"nice":false,"zero":false},"axis":null},"y":{"field":"y","type":"quantitative","scale":{"domain":[-4.813,4.505],"nice":false,"zero":false},"axis":null},"text":{"field":"t"}}},
{"data":{"name":"textB"},"transform":[{"filter":"datum.role === 'sub'"}],"mark":{"type":"text","font":"Liberation Sans","fontSize":16,"align":"center","baseline":"middle","color":"#111"},
 "encoding":{"x":{"field":"x","type":"quantitative","scale":{"domain":[-0.6,10.0],"nice":false,"zero":false},"axis":null},"y":{"field":"y","type":"quantitative","scale":{"domain":[-4.813,4.505],"nice":false,"zero":false},"axis":null},"text":{"field":"t"}}},
{"data":{"name":"textB"},"transform":[{"filter":"datum.role === 'plus'"}],"mark":{"type":"text","font":"Liberation Sans","fontSize":22,"align":"center","baseline":"middle","color":"#111"},
 "encoding":{"x":{"field":"x","type":"quantitative","scale":{"domain":[-0.6,10.0],"nice":false,"zero":false},"axis":null},"y":{"field":"y","type":"quantitative","scale":{"domain":[-4.813,4.505],"nice":false,"zero":false},"axis":null},"text":{"field":"t"}}},
{"data":{"name":"textB"},"transform":[{"filter":"datum.role === 'caption'"}],"mark":{"type":"text","font":"Liberation Sans","fontSize":17,"align":"center","baseline":"middle","color":"#111"},
 "encoding":{"x":{"field":"x","type":"quantitative","scale":{"domain":[-0.6,10.0],"nice":false,"zero":false},"axis":null},"y":{"field":"y","type":"quantitative","scale":{"domain":[-4.813,4.505],"nice":false,"zero":false},"axis":null},"text":{"field":"t"}}}
]
}
]
}
